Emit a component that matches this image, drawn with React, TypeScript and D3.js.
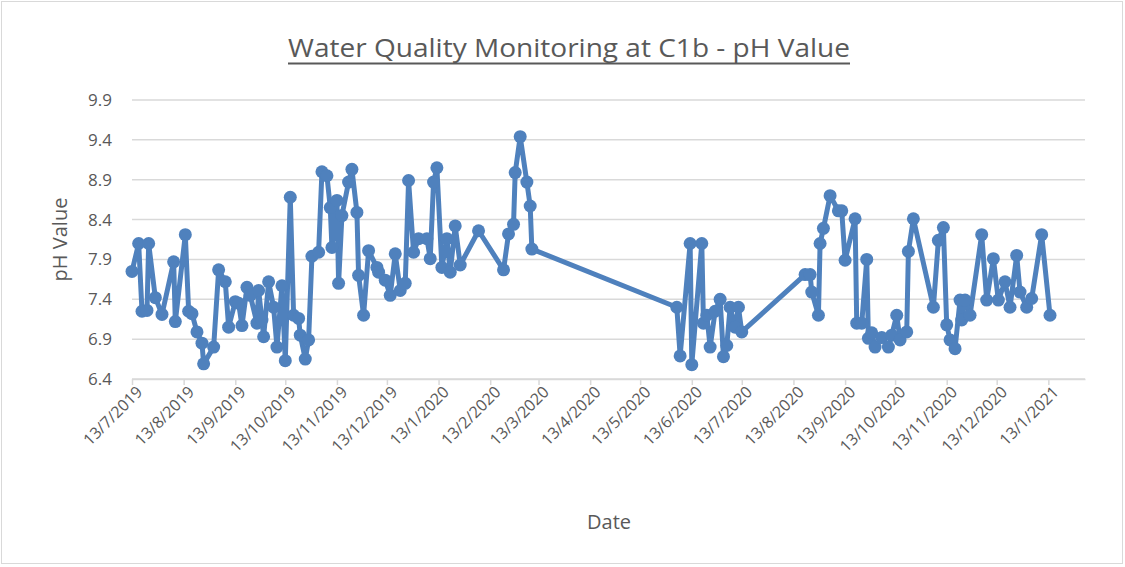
import React, { useEffect, useRef } from 'react';
import * as d3 from 'd3';

// pH readings at C1b
const dates: string[] = [
  '2019-07-13', '2019-07-17', '2019-07-19', '2019-07-22', '2019-07-23', '2019-07-27', '2019-07-31',
  '2019-08-07', '2019-08-08', '2019-08-14', '2019-08-16', '2019-08-18', '2019-08-21', '2019-08-24',
  '2019-08-25', '2019-08-31', '2019-09-03', '2019-09-07', '2019-09-09', '2019-09-13', '2019-09-15',
  '2019-09-17', '2019-09-20', '2019-09-22', '2019-09-26', '2019-09-27', '2019-09-29', '2019-09-30',
  '2019-10-03', '2019-10-06', '2019-10-08', '2019-10-11', '2019-10-13', '2019-10-16', '2019-10-18',
  '2019-10-21', '2019-10-22', '2019-10-25', '2019-10-27', '2019-10-29', '2019-11-02', '2019-11-04',
  '2019-11-07', '2019-11-09', '2019-11-10', '2019-11-13', '2019-11-14', '2019-11-16', '2019-11-20',
  '2019-11-22', '2019-11-25', '2019-11-26', '2019-11-29', '2019-12-02', '2019-12-07', '2019-12-08',
  '2019-12-12', '2019-12-15', '2019-12-18', '2019-12-21', '2019-12-24', '2019-12-26', '2019-12-29',
  '2020-01-01', '2020-01-06', '2020-01-08', '2020-01-10', '2020-01-12', '2020-01-15', '2020-01-18',
  '2020-01-20', '2020-01-23', '2020-01-26', '2020-02-06', '2020-02-21', '2020-02-24', '2020-02-27',
  '2020-02-28', '2020-03-02', '2020-03-06', '2020-03-08', '2020-03-09', '2020-06-04', '2020-06-06',
  '2020-06-12', '2020-06-13', '2020-06-19', '2020-06-20', '2020-06-22', '2020-06-24', '2020-06-27',
  '2020-06-30', '2020-07-02', '2020-07-04', '2020-07-06', '2020-07-09', '2020-07-11', '2020-07-13',
  '2020-08-20', '2020-08-23', '2020-08-24', '2020-08-28', '2020-08-29', '2020-08-31', '2020-09-04',
  '2020-09-09', '2020-09-11', '2020-09-13', '2020-09-19', '2020-09-20', '2020-09-23', '2020-09-26',
  '2020-09-27', '2020-09-29', '2020-10-01', '2020-10-05', '2020-10-09', '2020-10-11', '2020-10-14',
  '2020-10-16', '2020-10-20', '2020-10-21', '2020-10-24', '2020-11-05', '2020-11-08', '2020-11-11',
  '2020-11-13', '2020-11-15', '2020-11-18', '2020-11-21', '2020-11-22', '2020-11-24', '2020-11-27',
  '2020-12-04', '2020-12-07', '2020-12-11', '2020-12-14', '2020-12-18', '2020-12-21', '2020-12-25',
  '2020-12-27', '2020-12-31', '2021-01-03', '2021-01-09', '2021-01-14',
];

const phValues: number[] = [
  7.75, 8.1, 7.25, 7.26, 8.1, 7.42, 7.21,
  7.87, 7.12, 8.21, 7.25, 7.22, 6.99, 6.85,
  6.59, 6.8, 7.77, 7.62, 7.05, 7.37, 7.35,
  7.07, 7.55, 7.45, 7.1, 7.51, 7.14, 6.93,
  7.62, 7.3, 6.8, 7.57, 6.63, 8.68, 7.2,
  7.16, 6.95, 6.65, 6.89, 7.94, 7.99, 9.0,
  8.95, 8.55, 8.05, 8.64, 7.6, 8.45, 8.87,
  9.03, 8.49, 7.7, 7.2, 8.01, 7.8, 7.74,
  7.64, 7.45, 7.97, 7.51, 7.6, 8.89, 7.99,
  8.16, 8.16, 7.91, 8.87, 9.05, 7.8, 8.16,
  7.74, 8.32, 7.83, 8.26, 7.77, 8.22, 8.34,
  8.99, 9.44, 8.87, 8.57, 8.03, 7.3, 6.69,
  8.1, 6.58, 8.1, 7.1, 7.2, 6.8, 7.25,
  7.4, 6.68, 6.82, 7.3, 7.05, 7.3, 6.99,
  7.71, 7.71, 7.49, 7.2, 8.1, 8.29, 8.7,
  8.51, 8.51, 7.89, 8.41, 7.1, 7.1, 7.9,
  6.91, 6.98, 6.8, 6.92, 6.8, 6.95, 7.2,
  6.89, 6.99, 8.0, 8.41, 7.3, 8.14, 8.3,
  7.08, 6.89, 6.78, 7.39, 7.14, 7.39, 7.2,
  8.21, 7.39, 7.91, 7.39, 7.62, 7.3, 7.95,
  7.49, 7.3, 7.41, 8.21, 7.2,
];

const yTicks: number[] = [6.4, 6.9, 7.4, 7.9, 8.4, 8.9, 9.4, 9.9];

const title = 'Water Quality Monitoring at C1b - pH Value';
const xTitle = 'Date';
const yTitle = 'pH Value';

type Reading = { date: Date; value: number };

const width = 1125;
const height = 567;
const margin = { top: 100, right: 40, bottom: 188, left: 132 };
const textColor = '#595959';
const gridColor = '#D9D9D9';
const lineColor = '#4F81BD';
const font = "'Liberation Sans Narrow', 'Open Sans', sans-serif";

const App = () => {
  const chartRef = useRef<SVGSVGElement | null>(null);

  useEffect(() => {
    document.body.style.margin = '0';
    if (!chartRef.current) return;
    const svg = d3.select(chartRef.current);
    svg.selectAll('*').remove();

    const parse = d3.utcParse('%Y-%m-%d');
    const data: Reading[] = dates.map((d, i) => ({ date: parse(d) as Date, value: phValues[i] }));

    const innerWidth = width - margin.left - margin.right;
    const innerHeight = height - margin.top - margin.bottom;

    const x = d3
      .scaleUtc()
      .domain([parse('2019-07-13') as Date, parse('2021-02-04') as Date])
      .range([0, innerWidth]);
    const y = d3.scaleLinear().domain([6.4, 9.9]).range([innerHeight, 0]);

    // month ticks on the 13th
    const tickDates = d3
      .utcMonth.range(new Date(Date.UTC(2019, 6, 1)), new Date(Date.UTC(2021, 1, 1)))
      .map((d) => d3.utcDay.offset(d, 12));
    const fmt = d3.utcFormat('%-d/%-m/%Y');

    // chart border
    svg
      .append('rect')
      .attr('x', 1.5)
      .attr('y', 1.5)
      .attr('width', width - 4)
      .attr('height', height - 5)
      .attr('fill', 'white')
      .attr('stroke', gridColor)
      .attr('stroke-width', 1);

    // title
    svg
      .append('text')
      .attr('x', 569)
      .attr('y', 57)
      .attr('text-anchor', 'middle')
      .attr('font-family', font)
      .attr('font-size', 26)
      .attr('fill', textColor)
      .attr('textLength', 562)
      .attr('lengthAdjust', 'spacingAndGlyphs')
      .text(title);
    svg
      .append('line')
      .attr('x1', 288)
      .attr('x2', 850)
      .attr('y1', 63.5)
      .attr('y2', 63.5)
      .attr('stroke', textColor)
      .attr('stroke-width', 2);

    const g = svg.append('g').attr('transform', `translate(${margin.left},${margin.top})`);

    // horizontal gridlines
    g.selectAll('.grid')
      .data(yTicks)
      .enter()
      .append('line')
      .attr('x1', 0)
      .attr('x2', innerWidth)
      .attr('y1', (d) => y(d))
      .attr('y2', (d) => y(d))
      .attr('stroke', gridColor)
      .attr('stroke-width', 1.5);

    // y labels
    g.selectAll('.ylab')
      .data(yTicks)
      .enter()
      .append('text')
      .attr('x', -20)
      .attr('y', (d) => y(d))
      .attr('dy', '0.35em')
      .attr('text-anchor', 'end')
      .attr('font-family', font)
      .attr('font-size', 17)
      .attr('fill', textColor)
      .text((d) => d.toFixed(1));

    // x axis
    const xAxis = d3
      .axisBottom(x)
      .tickValues(tickDates)
      .tickSize(6)
      .tickSizeOuter(0)
      .tickFormat((d) => fmt(d as Date));
    const ax = g.append('g').attr('transform', `translate(0,${innerHeight})`).call(xAxis);
    ax.selectAll('path, line').attr('stroke', gridColor).attr('stroke-width', 1.5);
    ax.selectAll('text')
      .attr('font-family', font)
      .attr('font-size', 16)
      .attr('fill', textColor)
      .attr('text-anchor', 'end')
      .attr('dx', 0)
      .attr('dy', 0)
      .attr('y', 0)
      .attr('transform', 'translate(11,14) rotate(-45)');

    // line
    const line = d3
      .line<Reading>()
      .x((d) => x(d.date))
      .y((d) => y(d.value));
    g.append('path')
      .datum(data)
      .attr('d', line)
      .attr('fill', 'none')
      .attr('stroke', lineColor)
      .attr('stroke-width', 5)
      .attr('stroke-linejoin', 'round');

    g.selectAll('.pt')
      .data(data)
      .enter()
      .append('circle')
      .attr('cx', (d) => x(d.date))
      .attr('cy', (d) => y(d.value))
      .attr('r', 6.5)
      .attr('fill', lineColor);

    // axis titles
    svg
      .append('text')
      .attr('x', 609)
      .attr('y', 529)
      .attr('text-anchor', 'middle')
      .attr('font-family', font)
      .attr('font-size', 20)
      .attr('fill', textColor)
      .text(xTitle);
    svg
      .append('text')
      .attr('transform', `translate(67,${margin.top + innerHeight / 2}) rotate(-90)`)
      .attr('text-anchor', 'middle')
      .attr('font-family', font)
      .attr('font-size', 20)
      .attr('fill', textColor)
      .text(yTitle);
  }, []);

  return <svg ref={chartRef} width={width} height={height} style={{ display: 'block' }} />;
};

export default App;
